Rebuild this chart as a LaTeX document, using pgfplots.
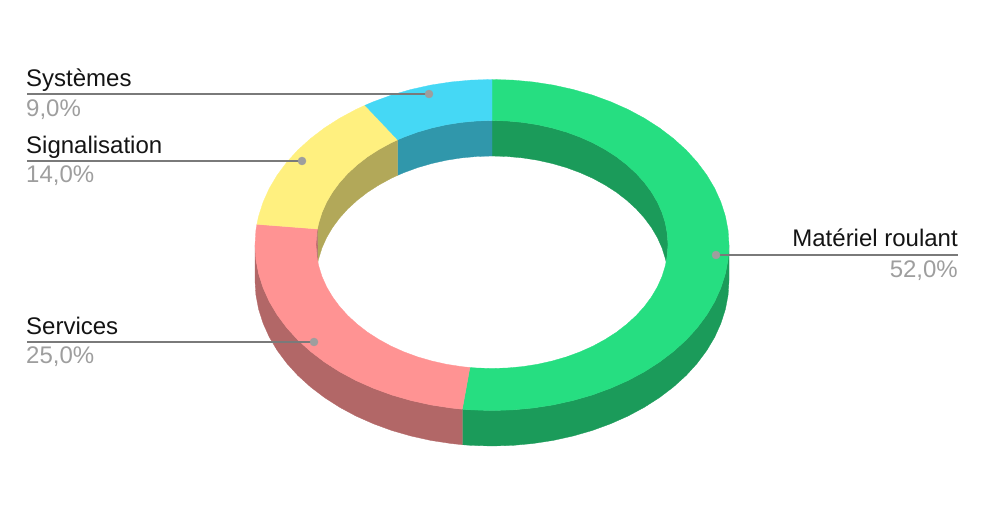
\documentclass[border=0pt]{standalone}
\usepackage{fontspec}
\setmainfont{Liberation Sans}
\usepackage{pgfplots}
\pgfplotsset{compat=1.18}

\definecolor{vert}{RGB}{38,222,129}
\definecolor{vertf}{RGB}{27,155,90}
\definecolor{rose}{RGB}{255,147,147}
\definecolor{rosef}{RGB}{178,103,103}
\definecolor{jaune}{RGB}{255,240,127}
\definecolor{jaunef}{RGB}{178,168,89}
\definecolor{bleu}{RGB}{69,216,245}
\definecolor{bleuf}{RGB}{48,151,171}
\definecolor{trait}{RGB}{122,122,122}
\definecolor{point}{RGB}{158,158,158}

\tikzset{
  lab/.style={inner sep=0pt, font=\fontsize{24}{24}\selectfont},
  fond/.style={fill=#1, draw=#1, line width=0.3pt},
}

\begin{document}
\begin{tikzpicture}
\useasboundingbox (0,0) rectangle (984pt,526pt);
\begin{axis}[
    at={(0,0)},
    anchor=south west,
    scale only axis,
    width=984pt,
    height=526pt,
    xmin=0, xmax=984,
    ymin=0, ymax=526,
    y dir=reverse,
    hide axis,
    clip=false,
  ]
% outer walls
\addplot[fond=vertf] coordinates {
  (729,245) (728.1,259.4) (725.4,273.7) (720.9,287.8) (714.7,301.6) (706.8,314.9)
  (697.2,327.8) (686.2,339.9) (673.5,351.4) (659.6,362.0) (644.3,371.8) (627.9,380.6)
  (610.5,388.3) (592.2,395.0) (573.1,400.5) (553.3,404.9) (533.1,408.0) (512.7,409.9)
  (492,410.5) (471.3,409.9) (462.3,409.2)
  (462.3,444.7) (471.3,445.4) (492,446) (512.7,445.4) (533.1,443.5) (553.3,440.4)
  (573.1,436) (592.2,430.5) (610.5,423.8) (627.9,416.1) (644.3,407.3) (659.6,397.5)
  (673.5,386.9) (686.2,375.4) (697.2,363.3) (706.8,350.4) (714.7,337.1) (720.9,323.3)
  (725.4,309.2) (728.1,294.9) (729,280.5)
} -- cycle;
\addplot[fond=rosef] coordinates {
  (462.3,409.2) (450.9,408.0) (430.7,404.9) (410.9,400.5) (391.8,395.0) (373.5,388.3)
  (356.1,380.6) (339.7,371.8) (324.4,362.0) (310.5,351.4) (297.8,339.9) (286.8,327.8)
  (277.2,314.9) (269.3,301.6) (263.1,287.8) (258.6,273.7) (255.9,259.4) (255,245)
  (255,280.5) (255.9,294.9) (258.6,309.2) (263.1,323.3) (269.3,337.1) (277.2,350.4)
  (286.8,363.3) (297.8,375.4) (310.5,386.9) (324.4,397.5) (339.7,407.3) (356.1,416.1)
  (373.5,423.8) (391.8,430.5) (410.9,436) (430.7,440.4) (450.9,443.5) (462.3,444.7)
} -- cycle;
% inner walls
\addplot[fond=vertf] coordinates {
  (492,120.5) (507.3,121.0) (522.6,122.4) (537.5,124.7) (552.2,128.0) (566.4,132.1)
  (580,137.1) (593,142.9) (605.1,149.5) (616.5,156.8) (626.8,164.8) (636.2,173.4)
  (644.4,182.5) (651.5,192.1) (657.4,202.1) (662,212.4) (665.3,223.0) (667.3,233.7)
  (668,244.5) (667.3,255.3) (666.2,262.25)
  (665.3,258.5) (662,247.9) (657.4,237.6) (651.5,227.6) (644.4,218) (636.2,208.9)
  (626.8,200.3) (616.5,192.3) (605.1,185) (593,178.4) (580,172.6) (566.4,167.6)
  (552.2,163.5) (537.5,160.2) (522.6,157.9) (507.3,156.5) (492,156)
} -- cycle;
\addplot[fond=bleuf] coordinates {
  (397.7,139.8) (404,137.1) (417.6,132.1) (431.8,128.0) (446.5,124.7) (461.4,122.4)
  (476.7,121.0) (492,120.5)
  (492,156) (476.7,156.5) (461.4,157.9) (446.5,160.2) (431.8,163.5) (417.6,167.6)
  (404,172.6) (397.7,175.3)
} -- cycle;
\addplot[fond=jaunef] coordinates {
  (317.4,229) (318.7,223.0) (322,212.4) (326.6,202.1) (332.5,192.1) (339.6,182.5)
  (347.8,173.4) (357.2,164.8) (367.5,156.8) (378.9,149.5) (391,142.9) (397.7,139.8)
  (397.7,175.3) (391,178.4) (378.9,185) (367.5,192.3) (357.2,200.3) (347.8,208.9)
  (339.6,218) (332.5,227.6) (326.6,237.6) (322,247.9) (318.7,258.5) (317.8,262.25)
} -- cycle;
\addplot[fond=rosef] coordinates {
  (317.4,229) (316.7,233.7) (316,244.5) (316.7,255.3) (317.8,262.25)
} -- cycle;
% top surface
\addplot[fond=vert] coordinates {
  (492,79.5) (512.7,80.1) (533.1,82.0) (553.3,85.1) (573.1,89.5) (592.2,95.0)
  (610.5,101.7) (627.9,109.4) (644.3,118.2) (659.6,128.0) (673.5,138.6) (686.2,150.1)
  (697.2,162.2) (706.8,175.1) (714.7,188.4) (720.9,202.2) (725.4,216.3) (728.1,230.6)
  (729,245) (728.1,259.4) (725.4,273.7) (720.9,287.8) (714.7,301.6) (706.8,314.9)
  (697.2,327.8) (686.2,339.9) (673.5,351.4) (659.6,362.0) (644.3,371.8) (627.9,380.6)
  (610.5,388.3) (592.2,395.0) (573.1,400.5) (553.3,404.9) (533.1,408.0) (512.7,409.9)
  (492,410.5) (471.3,409.9) (462.3,409.2)
  (469.9,367.5) (476.7,368.0) (492,368.5) (507.3,368.0) (522.6,366.6) (537.5,364.3)
  (552.2,361.0) (566.4,356.9) (580,351.9) (593,346.1) (605.1,339.5) (616.5,332.2)
  (626.8,324.2) (636.2,315.6) (644.4,306.5) (651.5,296.9) (657.4,286.9) (662,276.6)
  (665.3,266.0) (667.3,255.3) (668,244.5) (667.3,233.7) (665.3,223.0) (662,212.4)
  (657.4,202.1) (651.5,192.1) (644.4,182.5) (636.2,173.4) (626.8,164.8) (616.5,156.8)
  (605.1,149.5) (593,142.9) (580,137.1) (566.4,132.1) (552.2,128.0) (537.5,124.7)
  (522.6,122.4) (507.3,121.0) (492,120.5)
} -- cycle;
\addplot[fond=rose] coordinates {
  (462.3,409.2) (450.9,408.0) (430.7,404.9) (410.9,400.5) (391.8,395.0) (373.5,388.3)
  (356.1,380.6) (339.7,371.8) (324.4,362.0) (310.5,351.4) (297.8,339.9) (286.8,327.8)
  (277.2,314.9) (269.3,301.6) (263.1,287.8) (258.6,273.7) (255.9,259.4) (255,245)
  (255.9,230.6) (256.9,224.3)
  (317.4,229) (316.7,233.7) (316,244.5) (316.7,255.3) (318.7,266.0) (322,276.6)
  (326.6,286.9) (332.5,296.9) (339.6,306.5) (347.8,315.6) (357.2,324.2) (367.5,332.2)
  (378.9,339.5) (391,346.1) (404,351.9) (417.6,356.9) (431.8,361.0) (446.5,364.3)
  (461.4,366.6) (469.9,367.5)
} -- cycle;
\addplot[fond=jaune] coordinates {
  (256.9,224.3) (258.6,216.3) (263.1,202.2) (269.3,188.4) (277.2,175.1) (286.8,162.2)
  (297.8,150.1) (310.5,138.6) (324.4,128.0) (339.7,118.2) (356.1,109.4) (365,105.3)
  (397.7,139.8) (391,142.9) (378.9,149.5) (367.5,156.8) (357.2,164.8) (347.8,173.4)
  (339.6,182.5) (332.5,192.1) (326.6,202.1) (322,212.4) (318.7,223.0) (317.4,229)
} -- cycle;
\addplot[fond=bleu] coordinates {
  (365,105.3) (373.5,101.7) (391.8,95.0) (410.9,89.5) (430.7,85.1) (450.9,82.0)
  (471.3,80.1) (492,79.5)
  (492,120.5) (476.7,121.0) (461.4,122.4) (446.5,124.7) (431.8,128.0) (417.6,132.1)
  (404,137.1) (397.7,139.8)
} -- cycle;
% leaders
\addplot[color=trait, line width=2pt] coordinates {(27,94) (429,94)};
\addplot[color=trait, line width=2pt] coordinates {(27,161) (302,161)};
\addplot[color=trait, line width=2pt] coordinates {(27,342) (314,342)};
\addplot[color=trait, line width=2pt] coordinates {(716,255) (958,255)};
\addplot[only marks, mark=*, mark size=4pt, mark options={fill=point, draw=point}] coordinates {
  (429,94) (302,161) (314,342) (716,255)
};
% labels
\node[lab, anchor=base west, text=black!92] at (axis cs:26,86.5) {Systèmes};
\node[lab, anchor=base west, text=point] at (axis cs:26,116.5) {9,0\%};
\node[lab, anchor=base west, text=black!92] at (axis cs:26,153.5) {Signalisation};
\node[lab, anchor=base west, text=point] at (axis cs:26,183) {14,0\%};
\node[lab, anchor=base west, text=black!92] at (axis cs:26,334.5) {Services};
\node[lab, anchor=base west, text=point] at (axis cs:26,363.5) {25,0\%};
\node[lab, anchor=base east, text=black!92] at (axis cs:958,247) {Matériel roulant};
\node[lab, anchor=base east, text=point] at (axis cs:958,277.5) {52,0\%};
\end{axis}
\end{tikzpicture}
\end{document}
